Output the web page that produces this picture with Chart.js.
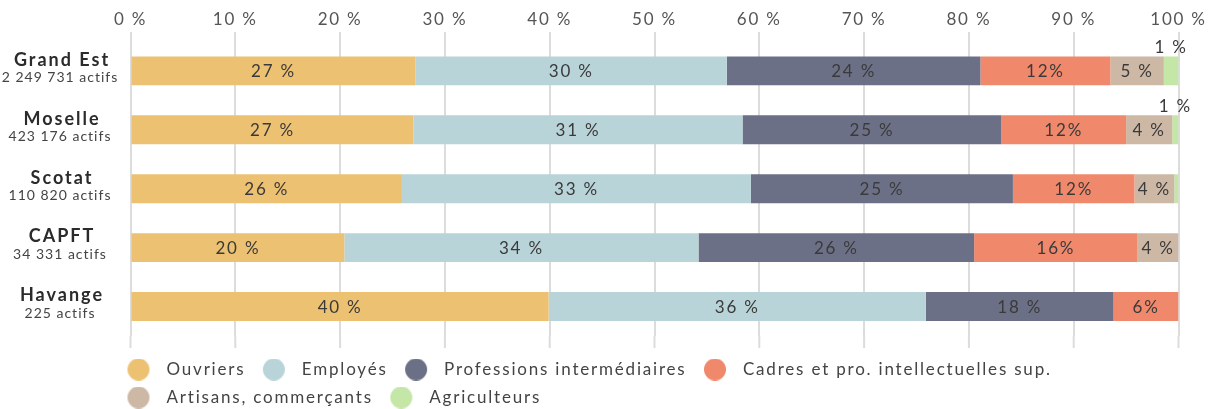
<!DOCTYPE html>
<html><head><meta charset="utf-8">
<script src="https://cdn.jsdelivr.net/npm/chart.js@4/dist/chart.umd.min.js"></script>
<style>html,body{margin:0;padding:0;background:#fff}#wrap{width:1210px;height:409px;position:relative}</style>
</head><body><div id="wrap"><canvas id="c"></canvas></div>
<script>
const categories = ['Grand Est','Moselle','Scotat','CAPFT','Havange'];
const actifs = ['2 249 731 actifs','423 176 actifs','110 820 actifs','34 331 actifs','225 actifs'];
const seriesNames = ['Ouvriers','Employés','Professions intermédiaires','Cadres et pro. intellectuelles sup.','Artisans, commerçants','Agriculteurs'];
const ouvriers     = [27.2, 27.0, 25.9, 20.4, 39.9];
const employes     = [29.7, 31.4, 33.3, 33.8, 36.0];
const profInter    = [24.2, 24.7, 25.0, 26.3, 17.9];
const cadres       = [12.4, 11.9, 11.6, 15.6, 6.2];
const artisans     = [5.1, 4.4, 3.8, 3.9, 0];
const agriculteurs = [1.4, 0.6, 0.4, 0, 0];
const xTicks = [0,10,20,30,40,50,60,70,80,90,100];
const labelSuffix = [' %',' %',' %','%',' %',' %'];

const colors = ['#ECC172','#B9D4D8','#6C7087','#F0886B','#CDB8A6','#C4E6A6'];
const seriesValues = [ouvriers, employes, profInter, cadres, artisans, agriculteurs];
const FONT = 'Lato, "Open Sans", sans-serif';
const SPACING = '1.8px';

function marker(color){
  const c = document.createElement('canvas');
  c.width = 38; c.height = 22;
  const g = c.getContext('2d');
  g.fillStyle = color;
  g.beginPath(); g.arc(18, 11, 11, 0, Math.PI*2); g.fill();
  return c;
}
const markers = colors.map(marker);

const datasets = seriesNames.map((n,i)=>({
  label:n, data:seriesValues[i], backgroundColor:colors[i], borderWidth:0,
  barPercentage:0.49, categoryPercentage:1
}));

const spacingPlugin = {
  id:'spacing',
  beforeUpdate(chart){ chart.ctx.letterSpacing = SPACING; },
  beforeDraw(chart){ chart.ctx.letterSpacing = SPACING; },
  afterLayout(chart){ chart.legend.top += 14; chart.legend.bottom += 14; }
};

const valueLabels = {
  id:'valueLabels',
  afterDatasetsDraw(chart){
    const ctx = chart.ctx;
    ctx.save();
    ctx.letterSpacing = SPACING;
    ctx.font = '17px ' + FONT;
    ctx.fillStyle = '#3a3a3a';
    ctx.textAlign = 'center';
    ctx.textBaseline = 'middle';
    chart.data.datasets.forEach((ds,di)=>{
      const meta = chart.getDatasetMeta(di);
      meta.data.forEach((el,i)=>{
        const v = ds.data[i];
        const r = Math.round(v);
        if (r < 1) return;
        const cx = (el.x + el.base)/2;
        const txt = r + labelSuffix[di];
        if (di === seriesNames.length-1) {
          ctx.fillText(txt, cx, el.y - el.height/2 - 9);
        } else {
          ctx.fillText(txt, cx, el.y + 1);
        }
      });
    });
    ctx.restore();
  }
};

const catLabels = {
  id:'catLabels',
  afterDraw(chart){
    const ctx = chart.ctx, ys = chart.scales.y;
    ctx.save();
    ctx.textAlign='center'; ctx.textBaseline='middle';
    categories.forEach((c,i)=>{
      const y = ys.getPixelForValue(i);
      ctx.fillStyle='#2b2b2b';
      ctx.letterSpacing='2px';
      ctx.font='bold 18px ' + FONT;
      ctx.fillText(c, 62, y-11);
      ctx.letterSpacing='1px';
      ctx.fillStyle='#444';
      ctx.font='14px ' + FONT;
      ctx.fillText(actifs[i], 60, y+7);
    });
    ctx.restore();
  }
};

const gridExt = {
  id:'gridExt',
  beforeDatasetsDraw(chart){
    const ctx = chart.ctx, xs = chart.scales.x, a = chart.chartArea;
    ctx.save();
    ctx.strokeStyle='#dcdcdc'; ctx.lineWidth=2;
    xTicks.forEach(t=>{
      const x = xs.getPixelForValue(t);
      ctx.beginPath(); ctx.moveTo(x, a.bottom); ctx.lineTo(x, a.bottom+12); ctx.stroke();
    });
    ctx.restore();
  }
};

new Chart(document.getElementById('c'), {
  type:'bar',
  data:{labels:categories, datasets},
  plugins:[spacingPlugin, gridExt, valueLabels, catLabels],
  options:{
    indexAxis:'y', responsive:true, maintainAspectRatio:false, animation:false,
    layout:{padding:{left:110, right:31.5, top:7.5, bottom:7}},
    scales:{
      x:{position:'top', stacked:true, min:0, max:100,
         afterBuildTicks(s){ s.ticks = xTicks.map(v=>({value:v})); },
         ticks:{callback:v=>v+' %', color:'#555', font:{size:17, family:FONT}, padding:2, maxRotation:0},
         grid:{color:'#dcdcdc', lineWidth:2, tickLength:9.5, drawTicks:true},
         border:{display:false}},
      y:{stacked:true, ticks:{display:false}, grid:{display:false}, border:{display:false},
         afterFit(s){ s.width = 20.5; }}
    },
    plugins:{
      legend:{position:'bottom', align:'start',
        labels:{usePointStyle:true, pointStyleWidth:37, boxHeight:17, padding:11,
          color:'#444', font:{size:17, family:FONT},
          generateLabels(chart){
            const items = Chart.defaults.plugins.legend.labels.generateLabels(chart);
            items.forEach((it,i)=>{ it.pointStyle = markers[i]; });
            return items;
          }}},
      tooltip:{enabled:false}
    }
  }
});
</script></body></html>
